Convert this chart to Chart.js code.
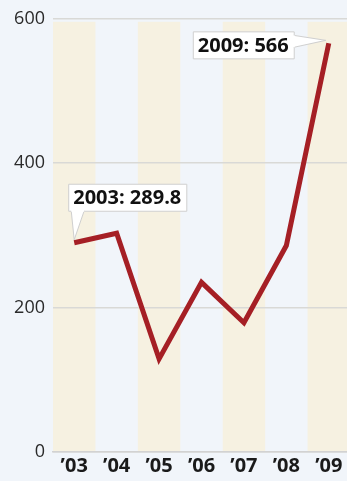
<!DOCTYPE html>
<html>
<head>
<meta charset="utf-8">
<script src="https://cdn.jsdelivr.net/npm/chart.js@4/dist/chart.umd.min.js"></script>
<style>
  html, body { margin: 0; padding: 0; background: #f1f5fa; overflow: hidden; }
  #wrap { position: relative; width: 350px; height: 481px; }
</style>
</head>
<body>
<div id="wrap"><canvas id="chart"></canvas></div>
<script>
  const years = ["’03", "’04", "’05", "’06", "’07", "’08", "’09"];
  const values = [289.8, 303, 129, 235, 179, 286, 566];
  const yTicks = [0, 200, 400, 600];
  const callouts = [
    { index: 0, text: "2003: 289.8", side: "above" },
    { index: 6, text: "2009: 566", side: "left" },
  ];

  const FONT = "'Open Sans', 'DejaVu Sans', sans-serif";

  // alternating beige columns behind the line
  const bandsPlugin = {
    id: "bands",
    beforeDraw(chart) {
      const { ctx, chartArea, scales } = chart;
      const x = scales.x;
      ctx.save();
      ctx.fillStyle = "#f6f1e1";
      years.forEach((_, i) => {
        if (i % 2) return;
        const c = x.getPixelForValue(i);
        const half = (x.getPixelForValue(1) - x.getPixelForValue(0)) / 2;
        ctx.fillRect(c - half, chartArea.top + 3, half * 2, chartArea.bottom - chartArea.top - 3);
      });
      ctx.restore();
    },
  };

  // white label boxes with a pointer to the point
  const calloutPlugin = {
    id: "callouts",
    afterDatasetsDraw(chart) {
      const { ctx } = chart;
      const meta = chart.getDatasetMeta(0);
      ctx.save();
      ctx.font = "bold 20px " + FONT;
      ctx.textBaseline = "middle";
      callouts.forEach((c) => {
        const pt = meta.data[c.index];
        const w = ctx.measureText(c.text).width + 10;
        const h = 27;
        let bx, by, tri;
        if (c.side === "above") {
          bx = pt.x - 6;
          by = pt.y - 59;
          tri = [[bx + 3, by + h], [bx + 16, by + h], [pt.x, pt.y - 3]];
        } else {
          bx = pt.x - 136;
          by = pt.y - 12;
          tri = [[bx + w, by + 4], [bx + w, by + 16], [pt.x - 3, pt.y - 3]];
        }
        ctx.fillStyle = "#ffffff";
        ctx.strokeStyle = "#cfcfcf";
        ctx.lineWidth = 1;
        ctx.beginPath();
        ctx.rect(bx + 0.5, by + 0.5, w, h);
        ctx.fill();
        ctx.stroke();
        ctx.beginPath();
        ctx.moveTo(tri[0][0], tri[0][1]);
        ctx.lineTo(tri[2][0], tri[2][1]);
        ctx.lineTo(tri[1][0], tri[1][1]);
        ctx.fill();
        ctx.stroke();
        // cover the border where the pointer joins the box
        ctx.beginPath();
        ctx.moveTo(tri[0][0], tri[0][1]);
        ctx.lineTo(tri[1][0], tri[1][1]);
        ctx.lineWidth = 2;
        ctx.strokeStyle = "#ffffff";
        ctx.stroke();
        ctx.fillStyle = "#111111";
        ctx.fillText(c.text, bx + 5, by + h / 2 + 1);
      });
      ctx.restore();
    },
  };

  new Chart(document.getElementById("chart"), {
    type: "line",
    data: {
      labels: years,
      datasets: [
        {
          data: values,
          borderColor: "#a51f25",
          borderWidth: 5,
          borderJoinStyle: "miter",
          pointRadius: 0,
          tension: 0,
        },
      ],
    },
    options: {
      responsive: true,
      maintainAspectRatio: false,
      animation: false,
      layout: { padding: { top: 6, left: 0, right: 0, bottom: 1 } },
      plugins: { legend: { display: false }, tooltip: { enabled: false } },
      scales: {
        x: {
          offset: true,
          grid: { display: false, drawTicks: false },
          border: { display: true, color: "#d2d2d2", width: 1.5 },
          ticks: {
            color: "#1a1a1a",
            font: { family: FONT, size: 20, weight: "bold" },
            padding: 2,
            maxRotation: 0,
            autoSkip: false,
          },
        },
        y: {
          min: 0,
          max: 600,
          afterBuildTicks(scale) {
            scale.ticks = yTicks.map((v) => ({ value: v }));
          },
          afterFit(scale) {
            scale.width = 53;
          },
          grid: { color: "#d9d9d6", lineWidth: 1.5, drawTicks: false },
          border: { display: false },
          ticks: {
            color: "#2a2a2a",
            font: { family: FONT, size: 18 },
            padding: 8,
          },
        },
      },
    },
    plugins: [bandsPlugin, calloutPlugin],
  });
</script>
</body>
</html>
